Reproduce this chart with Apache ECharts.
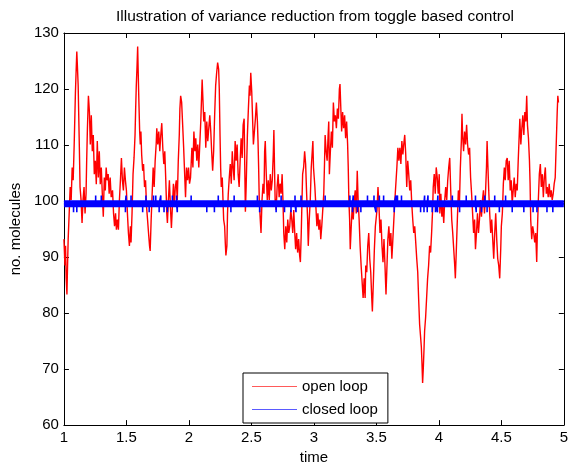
<!DOCTYPE html>
<html lang="en">
<head>
    <meta charset="UTF-8">
    <title>Variance reduction</title>
    <script src="https://cdn.jsdelivr.net/npm/echarts@6/dist/echarts.min.js"></script>
    <style>
        html, body { margin: 0; padding: 0; background: #fff; }
        #chart { width: 571px; height: 470px; }
    </style>
</head>
<body>
<div id="chart"></div>
<script type="text/javascript">
    // open loop trajectory
    var openTimes = [
        1.000, 1.008, 1.013, 1.018, 1.024, 1.029, 1.034, 1.042, 1.050, 1.058, 1.066, 1.074, 1.082, 1.087, 1.092, 1.098,
        1.103, 1.108, 1.114, 1.119, 1.124, 1.129, 1.137, 1.145, 1.153, 1.161, 1.169, 1.177, 1.182, 1.188, 1.196, 1.204,
        1.211, 1.219, 1.227, 1.235, 1.243, 1.251, 1.259, 1.267, 1.275, 1.283, 1.291, 1.299, 1.307, 1.315, 1.323, 1.331,
        1.338, 1.346, 1.354, 1.362, 1.370, 1.378, 1.389, 1.397, 1.405, 1.413, 1.420, 1.428, 1.436, 1.444, 1.452, 1.460,
        1.468, 1.476, 1.484, 1.492,
        1.500, 1.508, 1.516, 1.524, 1.532, 1.537, 1.545, 1.553, 1.561, 1.569, 1.574, 1.579, 1.585, 1.590, 1.595, 1.600,
        1.606, 1.611, 1.616, 1.622, 1.630, 1.637, 1.645, 1.653, 1.661, 1.669, 1.677, 1.685, 1.690, 1.698, 1.706, 1.714,
        1.722, 1.730, 1.738, 1.743, 1.751, 1.759, 1.767, 1.775, 1.783, 1.791, 1.799, 1.807, 1.815, 1.823, 1.828, 1.836,
        1.844, 1.852, 1.860, 1.868, 1.876, 1.883, 1.891, 1.899, 1.907, 1.915, 1.923, 1.928, 1.934, 1.942, 1.950, 1.958,
        1.966, 1.973, 1.981, 1.989, 1.997, 2.005,
        2.013, 2.024, 2.032, 2.040, 2.048, 2.055, 2.063, 2.071, 2.079, 2.087, 2.095, 2.100, 2.106, 2.111, 2.119, 2.127,
        2.135, 2.143, 2.151, 2.159, 2.167, 2.175, 2.182, 2.190, 2.198, 2.206, 2.214, 2.222, 2.230, 2.238, 2.243, 2.249,
        2.254, 2.259, 2.267, 2.272, 2.278, 2.286, 2.291, 2.296, 2.304, 2.309, 2.315, 2.323, 2.331, 2.339, 2.347, 2.354,
        2.362, 2.370, 2.378, 2.386, 2.394, 2.402, 2.410, 2.418, 2.426, 2.434, 2.442, 2.447, 2.452, 2.458, 2.463, 2.468,
        2.476, 2.484, 2.489, 2.495, 2.503,
        2.516, 2.524, 2.532, 2.540, 2.548, 2.553, 2.558, 2.563, 2.571, 2.577, 2.585, 2.593, 2.601, 2.606, 2.611, 2.619,
        2.627, 2.635, 2.643, 2.651, 2.659, 2.667, 2.675, 2.680, 2.685, 2.690, 2.698, 2.706, 2.714, 2.722, 2.730, 2.738,
        2.746, 2.754, 2.759, 2.767, 2.775, 2.783, 2.791, 2.799, 2.807, 2.815, 2.823, 2.831, 2.839, 2.847, 2.854, 2.862,
        2.870, 2.878, 2.886, 2.892, 2.899, 2.905, 2.910, 2.918, 2.926, 2.934, 2.942, 2.950, 2.955, 2.963, 2.971, 2.979,
        2.987, 2.992, 2.997,
        3.008, 3.016, 3.024, 3.032, 3.040, 3.048, 3.055, 3.063, 3.071, 3.079, 3.085, 3.090, 3.098, 3.106, 3.114, 3.119,
        3.124, 3.132, 3.140, 3.148, 3.156, 3.164, 3.172, 3.180, 3.188, 3.196, 3.204, 3.209, 3.214, 3.222, 3.230, 3.238,
        3.246, 3.254, 3.262, 3.270, 3.275, 3.280, 3.286, 3.291, 3.299, 3.307, 3.315, 3.323, 3.331, 3.339, 3.347, 3.354,
        3.362, 3.370, 3.378, 3.386, 3.394, 3.402, 3.410, 3.415, 3.423, 3.431, 3.439, 3.447, 3.455, 3.463, 3.468, 3.476,
        3.484, 3.492,
        3.505, 3.513, 3.521, 3.529, 3.537, 3.545, 3.553, 3.561, 3.569, 3.577, 3.585, 3.592, 3.600, 3.608, 3.616, 3.624,
        3.632, 3.640, 3.648, 3.656, 3.664, 3.672, 3.680, 3.688, 3.696, 3.704, 3.712, 3.719, 3.727, 3.735, 3.743, 3.751,
        3.759, 3.767, 3.775, 3.783, 3.791, 3.799, 3.807, 3.815, 3.823, 3.831, 3.838, 3.846, 3.854, 3.860, 3.865, 3.870,
        3.876, 3.881, 3.886, 3.894, 3.902, 3.910, 3.918, 3.926, 3.934, 3.942, 3.950, 3.955, 3.963, 3.971, 3.979, 3.987,
        3.995, 4.003,
        4.008, 4.016, 4.024, 4.032, 4.039, 4.047, 4.055, 4.063, 4.071, 4.079, 4.087, 4.095, 4.103, 4.111, 4.119, 4.127,
        4.132, 4.140, 4.148, 4.156, 4.164, 4.172, 4.180, 4.185, 4.190, 4.198, 4.206, 4.214, 4.222, 4.230, 4.238, 4.246,
        4.254, 4.262, 4.270, 4.278, 4.286, 4.293, 4.301, 4.309, 4.317, 4.325, 4.333, 4.341, 4.349, 4.357, 4.365, 4.373,
        4.381, 4.386, 4.391, 4.399, 4.407, 4.415, 4.423, 4.431, 4.439, 4.447, 4.455, 4.463, 4.471, 4.479, 4.487, 4.495,
        4.500, 4.508, 4.516, 4.524, 4.531, 4.539, 4.547, 4.555, 4.563, 4.571, 4.579, 4.587, 4.595, 4.603, 4.611, 4.619,
        4.627, 4.635, 4.643, 4.648, 4.656, 4.664, 4.672, 4.680, 4.688, 4.696, 4.703, 4.709, 4.717, 4.725, 4.730, 4.735,
        4.743, 4.751, 4.759, 4.767, 4.775, 4.783, 4.788, 4.796, 4.804, 4.812, 4.820, 4.828, 4.836, 4.844, 4.852, 4.860,
        4.867, 4.875, 4.883, 4.891, 4.899, 4.907, 4.915, 4.923, 4.931, 4.939, 4.947, 4.952, 4.957
    ];
    var openLoop = [
        93.2, 88.5, 92, 86.2, 83.3, 88.5, 93.2, 97.8, 102.5, 100.2, 106, 103.7, 110, 114.7, 119.4, 123.5,
        126.7, 124, 120.6, 114.7, 108.9, 102.5, 100.2, 96.1, 100.2, 102.5, 97.8, 101.3, 107.2, 113, 118.8, 115.9,
        110.1, 115.3, 108.9, 111.8, 104.8, 107.2, 103, 110.7, 104.2, 108.9, 103, 106, 101.3, 97.2, 104.2, 101.9,
        106, 103.7, 104.8, 101.3, 104.2, 100.7, 101.9, 97.8, 95.5, 97.8, 94.9, 96.7, 94.9, 100.2, 103.7, 107.7,
        103.7, 101.9, 106, 103.7,
        101.9, 97.8, 94.3, 92, 95.5, 92.6, 97.8, 104.8, 107.7, 111.8, 116.5, 120.6, 124.1, 127.6, 122.3, 117.6,
        112.4, 110.1, 112.4, 108.3, 105.4, 106.6, 102.5, 103.7, 99, 96.7, 94.3, 92, 91.1, 96.7, 101.3, 106,
        102.5, 107.2, 110.1, 113, 110.1, 112.4, 108.9, 111.8, 113.9, 109.5, 106.6, 108.9, 103.7, 97.8, 96.1, 100.2,
        103.7, 99, 95.2, 99, 103.1, 99, 102.5, 103.7, 100.2, 107.2, 111.8, 116.5, 118.8, 117.6, 113.6, 109.5,
        104.8, 100.7, 106, 103.7, 106, 103.1,
        104.2, 109.5, 106, 112.4, 108.9, 111.2, 107.2, 110.1, 106, 110.1, 114.2, 117.6, 121.7, 118.8, 114.2, 115.9,
        109.5, 114.2, 110.7, 113, 115.3, 112.4, 108.9, 105.4, 108.9, 115.3, 120.6, 122.9, 124.7, 123.5, 120, 111.8,
        106, 102.5, 104.2, 100.7, 96.7, 95.5, 92.6, 90.3, 92, 97.8, 101.3, 104.2, 106.6, 103.1, 108.9, 106,
        103.7, 110.7, 107.2, 110.1, 104.8, 102.5, 107.2, 111.2, 107.7, 113.6, 114.7, 106, 98.1, 102.5, 107.2, 111.8,
        116.5, 120.6, 118.8, 122.9, 119.4,
        110.1, 112.4, 114.7, 117.6, 114.2, 110.7, 106, 100.2, 96.7, 94.3, 100.2, 103.1, 101.3, 108.9, 110.7, 104.8,
        100.2, 103.7, 100.2, 104.8, 101.9, 103.7, 108.3, 112.7, 106, 100.2, 98.4, 102.5, 104.8, 100.7, 103.1, 101.3,
        104.8, 99, 94.3, 91.4, 95.5, 92.6, 96.7, 94.3, 95.5, 98.4, 96.7, 94.3, 98.4, 94.3, 91.4, 94.3,
        90.8, 93.2, 90.3, 89.1, 94.3, 100.2, 104.8, 106, 108.9, 106.6, 101.3, 96.7, 92, 96.7, 100.2, 106,
        108.9, 110.7, 106,
        102.5, 99, 95.5, 97.8, 94.9, 96.7, 93.2, 95.5, 98.4, 101.3, 106.6, 111.8, 108.9, 107.2, 111.8, 114.2,
        104.8, 108.9, 112.4, 109.5, 117.6, 114.2, 115.3, 113, 116.5, 114.7, 120, 120.9, 117.6, 112.4, 115.9, 113,
        115.3, 111.2, 114.2, 110.1, 106, 100.2, 96.7, 91.4, 95.5, 99, 96.7, 100.2, 101.9, 97.8, 105.4, 100.2,
        96.7, 92, 88.5, 85.6, 82.7, 86.2, 82.7, 88.5, 87.3, 92, 94.3, 89.7, 87.3, 82.7, 80.3, 85.6,
        91.4, 95.5,
        98.4, 102.5, 99, 94.3, 96.7, 92, 89.1, 93.2, 88.5, 83.3, 88.5, 93.2, 95.5, 92, 94.3, 89.7,
        93.2, 96.7, 100.2, 103.1, 106, 109.5, 107.2, 109.5, 106.6, 110.7, 108.3, 110.1, 111.8, 108.3, 102.5, 107.2,
        104.8, 101.9, 103.7, 99.6, 96.7, 94.3, 95.5, 92.6, 89.7, 87.3, 82.7, 78, 75.7, 73.9, 71, 67.5,
        70.4, 73.4, 76.8, 79.2, 82.7, 86.2, 88.5, 92, 90.8, 94.3, 98.4, 102.5, 104.8, 101.3, 106, 104.2,
        101.3, 104.8,
        97.8, 101.3, 97.2, 99, 96.1, 100.2, 102.5, 100.2, 103.7, 106, 107.7, 101.9, 96.7, 94.3, 91.4, 88.5,
        86.2, 91.4, 96.7, 101.9, 99, 106, 110.7, 115.6, 111.8, 108.9, 112.4, 110.1, 113.6, 110.1, 108.3, 109.5,
        104.2, 101.3, 97.8, 94.3, 96.7, 91.4, 94.3, 97.8, 94.3, 96.7, 100.2, 97.2, 100.2, 101.9, 97.8, 101.3,
        106, 110.7, 107.2, 101.9, 97.8, 94.3, 96.7, 93.2, 89.7, 94.3, 97.8, 93.2, 89.7, 88.5, 86.2, 91.4,
        95.5, 97.8, 103.1, 106, 103.7, 107.2, 107.7, 103.7, 107.2, 101.9, 103.7, 99.6, 101.9, 104.2, 100.7, 103.1,
        101.9, 107.2, 111.8, 114.7, 110.1, 113, 115.3, 111.8, 115.9, 114.2, 118.8, 113.6, 111.2, 107.2, 103.1, 96.7,
        93.2, 95.5, 94.3, 92.6, 94.3, 89.1, 94.3, 100.2, 104.8, 106.6, 102.5, 104.8, 100.7, 104.2, 106, 101.3,
        102.5, 100.7, 103.1, 100.7, 101.9, 100.2, 101.3, 103.1, 104.2, 110.1, 115.9, 118.8, 117.6
    ];

    // closed loop: flickers between 99 and 100, with short excursions
    var closedLevel = 99.5;
    var closedRange = [1, 5];
    var closedUpTimes = [
        1.254, 1.299, 1.497, 1.537, 1.656, 1.717, 1.735, 1.775, 1.868, 1.902, 2.018, 2.235, 2.362,
        2.548, 2.738, 2.849, 2.897, 3.090, 3.288, 3.315, 3.429, 3.481, 3.524, 3.558, 3.656, 3.669,
        3.701, 3.886, 3.913, 3.992, 4.108, 4.219, 4.293, 4.368, 4.447, 4.534
    ];
    var closedUpValue = 101;
    var closedDownTimes = [
        1.077, 1.103, 1.492, 1.630, 1.682, 1.762, 1.801, 1.828, 1.907, 2.143, 2.204, 2.336, 2.566,
        2.698, 2.765, 2.817, 2.857, 3.309, 3.349, 3.376, 3.497, 3.643, 3.854, 3.881, 3.907, 3.947,
        3.973, 3.989, 4.166, 4.299, 4.341, 4.386, 4.484, 4.587, 4.680, 4.754, 4.785, 4.865, 4.912
    ];
    var closedDownValue = 98;

    var xTicks = { min: 1, max: 5, interval: 0.5 };
    var yTicks = { min: 60, max: 130, interval: 10 };

    var font = 'Liberation Sans, Arial, Helvetica, sans-serif';
    var red = '#ff0000';
    var blue = '#0000ff';
    // thin horizontal bar used as legend sample line (drawn a bit lighter, like the antialiased original)
    var legendLine = 'path://M0,0 L45,0 L45,1 L0,1 Z';

    var openData = openTimes.map(function (t, i) { return [t, openLoop[i]]; });
    var bandData = [[closedRange[0], closedLevel], [closedRange[1], closedLevel]];

    var spikes = [];
    closedUpTimes.forEach(function (t) { spikes.push([t, closedUpValue]); });
    closedDownTimes.forEach(function (t) { spikes.push([t, closedDownValue]); });
    spikes.sort(function (a, b) { return a[0] - b[0]; });
    var spikeData = [[closedRange[0], closedLevel]];
    spikes.forEach(function (s) {
        spikeData.push([s[0], closedLevel], [s[0], s[1]], [s[0], closedLevel]);
    });
    spikeData.push([closedRange[1], closedLevel]);

    function axisBase(o) {
        return {
            type: 'value',
            min: o.min,
            max: o.max,
            interval: o.interval,
            axisLine: { onZero: false, lineStyle: { color: '#000', width: 1 } },
            axisTick: { inside: true, length: 5, lineStyle: { color: '#000' } },
            splitLine: { show: false },
            axisLabel: { color: '#000', fontSize: 15, fontFamily: font }
        };
    }

    var xMain = axisBase(xTicks);
    xMain.position = 'bottom';
    xMain.axisLabel.margin = 5;
    xMain.name = 'time';
    xMain.nameLocation = 'middle';
    xMain.nameGap = 22;
    xMain.nameTextStyle = { color: '#000', fontSize: 15, fontFamily: font };
    var xTop = axisBase(xTicks);
    xTop.position = 'top';
    xTop.axisLabel = { show: false };

    var yMain = axisBase(yTicks);
    yMain.position = 'left';
    yMain.axisLabel.margin = 5;
    yMain.name = 'no. molecules';
    yMain.nameLocation = 'middle';
    yMain.nameGap = 32;
    yMain.nameTextStyle = { color: '#000', fontSize: 15, fontFamily: font };
    var yRight = axisBase(yTicks);
    yRight.position = 'right';
    yRight.axisLabel = { show: false };

    var chart = echarts.init(document.getElementById('chart'));
    chart.setOption({
        backgroundColor: '#fff',
        animation: false,
        title: {
            text: 'Illustration of variance reduction from toggle based control',
            left: 310,
            top: 4,
            textAlign: 'center',
            textStyle: { color: '#000', fontSize: 15.5, fontWeight: 'normal', fontFamily: font }
        },
        grid: { left: 63, right: 4, top: 33, bottom: 37 },
        xAxis: [xMain, xTop],
        yAxis: [yMain, yRight],
        legend: {
            orient: 'vertical',
            left: 243,
            top: 373,
            itemWidth: 45,
            itemHeight: 14,
            itemGap: 8,
            padding: [6, 10, 6, 9],
            borderColor: '#000',
            borderWidth: 1,
            backgroundColor: '#fff',
            symbolKeepAspect: true,
            textStyle: { color: '#000', fontSize: 15, fontFamily: font },
            data: [
                { name: 'open loop', icon: legendLine, itemStyle: { color: '#ff5a5a', borderWidth: 0 } },
                { name: 'closed loop', icon: legendLine, itemStyle: { color: '#5a5aff', borderWidth: 0 } }
            ]
        },
        series: [
            {
                name: 'open loop',
                type: 'line',
                data: openData,
                symbol: 'none',
                lineStyle: { color: red, width: 1.4 },
                itemStyle: { color: red },
                z: 2
            },
            {
                name: 'closed loop',
                type: 'line',
                data: bandData,
                symbol: 'none',
                lineStyle: { color: blue, width: 7 },
                itemStyle: { color: blue },
                z: 3
            },
            {
                name: 'closed loop spikes',
                type: 'line',
                data: spikeData,
                symbol: 'none',
                silent: true,
                lineStyle: { color: blue, width: 1.6 },
                itemStyle: { color: blue },
                z: 3
            }
        ]
    });
</script>
</body>
</html>
